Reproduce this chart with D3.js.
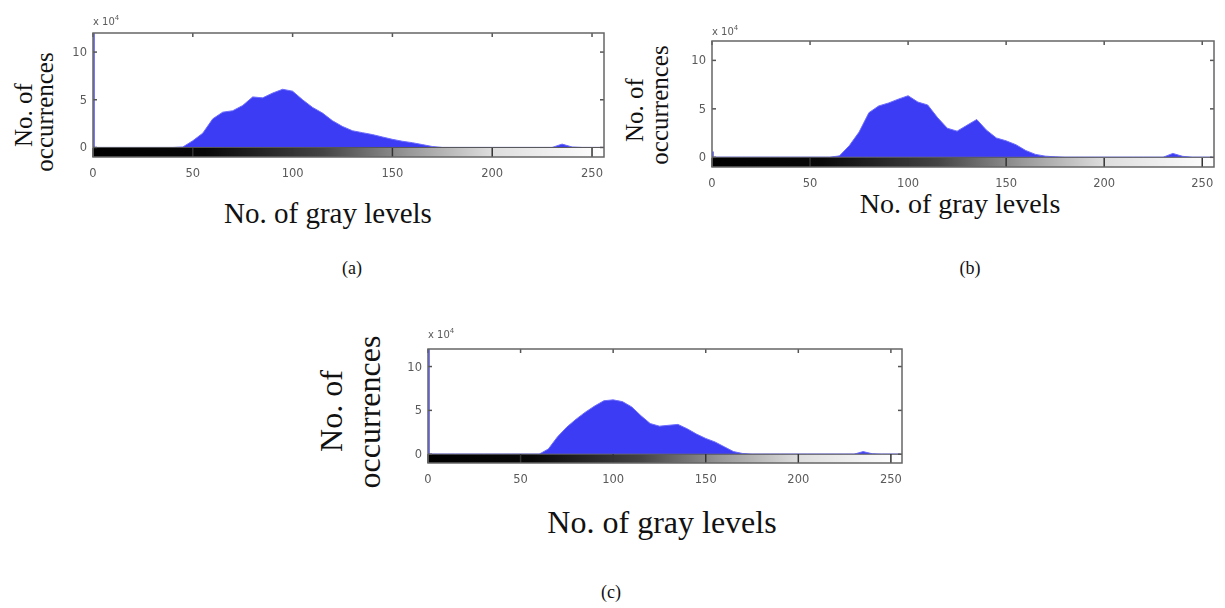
<!DOCTYPE html>
<html>
<head>
<meta charset="utf-8">
<script src="https://cdn.jsdelivr.net/npm/d3@7"></script>
<style>
  body { margin: 0; background: #fff; }
  .tick-label { font-family: "DejaVu Sans", sans-serif; font-size: 11.5px; fill: #5a5a5a; }
  .serif { font-family: "Liberation Serif", "Times New Roman", serif; fill: #111; }
</style>
</head>
<body>
<div id="chart"></div>
<script>
// Variables
var width = 1225,
	height = 608;

// gray levels sampled every 5 steps
var grayLevels = [0, 5, 10, 15, 20, 25, 30, 35, 40, 45, 50, 55, 60, 65, 70, 75, 80, 85, 90, 95,
	100, 105, 110, 115, 120, 125, 130, 135, 140, 145, 150, 155, 160, 165, 170, 175, 180, 185, 190, 195,
	200, 205, 210, 215, 220, 225, 230, 235, 240, 245, 250, 255];

// occurrences (x 10^4) for each gray level
var countsA = [0, 0, 0, 0, 0, 0, 0, 0, 0, 0.05, 0.7, 1.5, 3.0, 3.7, 3.85, 4.4, 5.3, 5.2, 5.7, 6.1,
	5.9, 5.0, 4.2, 3.6, 2.8, 2.2, 1.75, 1.55, 1.35, 1.1, 0.85, 0.65, 0.5, 0.3, 0.1, 0, 0, 0, 0, 0,
	0, 0, 0, 0, 0, 0, 0, 0.35, 0.05, 0, 0, 0];
var countsB = [0, 0, 0, 0, 0, 0, 0, 0, 0, 0, 0, 0, 0, 0.15, 1.2, 2.6, 4.6, 5.3, 5.6, 6.0,
	6.35, 5.7, 5.4, 4.1, 3.0, 2.7, 3.3, 3.9, 2.8, 2.0, 1.7, 1.3, 0.7, 0.3, 0.12, 0.05, 0, 0, 0, 0,
	0, 0, 0, 0, 0, 0, 0, 0.4, 0.1, 0, 0, 0];
var countsC = [0, 0, 0, 0, 0, 0, 0, 0, 0, 0, 0, 0, 0, 0.6, 2.0, 3.1, 4.0, 4.8, 5.5, 6.1,
	6.2, 6.0, 5.4, 4.4, 3.5, 3.2, 3.3, 3.4, 2.9, 2.3, 1.8, 1.4, 0.85, 0.3, 0.08, 0, 0, 0, 0, 0,
	0, 0, 0, 0, 0, 0, 0, 0.3, 0.05, 0, 0, 0];
// count at gray level 0 (goes past the top in a and c)
var zeroCounts = [14, 0.6, 14];

var xTicks = [0, 50, 100, 150, 200, 250];
var yTicks = [0, 5, 10];
var captions = ["(a)", "(b)", "(c)"];

// layout of the three panels
var panels = [
	{ counts: countsA, zero: zeroCounts[0], cap: captions[0],
	  left: 93, right: 604, top: 33, bottom: 157,
	  ySize: 25, yNo: [32, 115], yOcc: [53, 112],
	  xSize: 29, xLab: [328, 223], capPos: [352, 274], mult: [93, 25] },
	{ counts: countsB, zero: zeroCounts[1], cap: captions[1],
	  left: 712, right: 1214, top: 41, bottom: 167,
	  ySize: 25, yNo: [643, 110], yOcc: [668, 105],
	  xSize: 28, xLab: [960, 213], capPos: [970, 274], mult: [712, 35] },
	{ counts: countsC, zero: zeroCounts[2], cap: captions[2],
	  left: 428, right: 902, top: 349, bottom: 463,
	  ySize: 32, yNo: [342, 411], yOcc: [380, 412],
	  xSize: 32, xLab: [662, 533], capPos: [611, 598], mult: [428, 338] }
];

var svg = d3.select("#chart").append("svg")
	.attr("width", width)
	.attr("height", height);

var defs = svg.append("defs");
var grad = defs.append("linearGradient").attr("id", "grayRamp");
[[0, "#000"], [0.22, "#080808"], [0.45, "#444"], [0.62, "#999"], [0.78, "#ddd"], [1, "#fff"]]
	.forEach(function(s) {
		grad.append("stop").attr("offset", s[0]).attr("stop-color", s[1]);
	});
defs.append("filter").attr("id", "soft")
	.append("feGaussianBlur").attr("stdDeviation", 0.45);

function drawPanel(p, i) {
	var x = d3.scaleLinear().domain([0, 256]).range([p.left, p.right]);
	var y = d3.scaleLinear().domain([-1, 12]).range([p.bottom, p.top]);
	var g = svg.append("g").attr("class", "panel");

	defs.append("clipPath").attr("id", "clip" + i)
		.append("rect")
		.attr("x", p.left).attr("y", p.top)
		.attr("width", p.right - p.left).attr("height", p.bottom - p.top);

	var plot = g.append("g").attr("clip-path", "url(#clip" + i + ")");

	// histogram
	var area = d3.area()
		.x(function(d, j) { return x(grayLevels[j]); })
		.y0(y(0))
		.y1(function(d) { return y(d); });
	plot.append("path")
		.datum(p.counts)
		.attr("d", area)
		.attr("fill", "#3c3cf4")
		.attr("stroke", "#6c6cff")
		.attr("stroke-width", 1);

	// bin 0
	plot.append("line")
		.attr("x1", x(0) + 1).attr("x2", x(0) + 1)
		.attr("y1", y(0)).attr("y2", y(p.zero))
		.attr("stroke", "#7878ff").attr("stroke-width", 2);

	// gray ramp below zero
	plot.append("rect")
		.attr("x", x(0)).attr("y", y(0))
		.attr("width", p.right - p.left).attr("height", y(-1) - y(0))
		.attr("fill", "url(#grayRamp)");
	plot.append("line")
		.attr("x1", p.left).attr("x2", p.right)
		.attr("y1", y(0)).attr("y2", y(0))
		.attr("stroke", "#555").attr("stroke-width", 1);

	// ticks
	xTicks.forEach(function(t) {
		g.append("line")
			.attr("x1", x(t)).attr("x2", x(t))
			.attr("y1", p.bottom).attr("y2", p.bottom - 9)
			.attr("stroke", "#333").attr("stroke-width", 1.5);
		g.append("line")
			.attr("x1", x(t)).attr("x2", x(t))
			.attr("y1", p.top).attr("y2", p.top + 4)
			.attr("stroke", "#555").attr("stroke-width", 1.5);
		g.append("text")
			.attr("class", "tick-label")
			.attr("x", x(t)).attr("y", p.bottom + 20)
			.attr("text-anchor", "middle")
			.attr("filter", "url(#soft)")
			.text(t);
	});
	yTicks.forEach(function(t) {
		g.append("line")
			.attr("x1", p.left).attr("x2", p.left + 4)
			.attr("y1", y(t)).attr("y2", y(t))
			.attr("stroke", "#555").attr("stroke-width", 1.5);
		g.append("line")
			.attr("x1", p.right).attr("x2", p.right - 4)
			.attr("y1", y(t)).attr("y2", y(t))
			.attr("stroke", "#555").attr("stroke-width", 1.5);
		g.append("text")
			.attr("class", "tick-label")
			.attr("x", p.left - 6).attr("y", y(t) + 4)
			.attr("text-anchor", "end")
			.attr("filter", "url(#soft)")
			.text(t);
	});

	// frame
	g.append("rect")
		.attr("x", p.left).attr("y", p.top)
		.attr("width", p.right - p.left).attr("height", p.bottom - p.top)
		.attr("fill", "none")
		.attr("stroke", "#666").attr("stroke-width", 1.5);

	// x 10^4
	var m = g.append("text")
		.attr("class", "tick-label")
		.attr("x", p.mult[0]).attr("y", p.mult[1])
		.attr("filter", "url(#soft)")
		.style("font-size", "10px");
	m.append("tspan").text("x 10");
	m.append("tspan").attr("dy", -5).style("font-size", "7px").text("4");

	// axis labels
	g.append("text")
		.attr("class", "serif")
		.attr("transform", "translate(" + p.yNo[0] + "," + p.yNo[1] + ") rotate(-90)")
		.attr("text-anchor", "middle")
		.style("font-size", p.ySize + "px")
		.text("No. of");
	g.append("text")
		.attr("class", "serif")
		.attr("transform", "translate(" + p.yOcc[0] + "," + p.yOcc[1] + ") rotate(-90)")
		.attr("text-anchor", "middle")
		.style("font-size", p.ySize + "px")
		.text("occurrences");
	g.append("text")
		.attr("class", "serif")
		.attr("x", p.xLab[0]).attr("y", p.xLab[1])
		.attr("text-anchor", "middle")
		.style("font-size", p.xSize + "px")
		.text("No. of gray levels");

	// caption
	g.append("text")
		.attr("class", "serif")
		.attr("x", p.capPos[0]).attr("y", p.capPos[1])
		.attr("text-anchor", "middle")
		.style("font-size", "18px")
		.text(p.cap);
}

panels.forEach(drawPanel);
</script>
</body>
</html>
